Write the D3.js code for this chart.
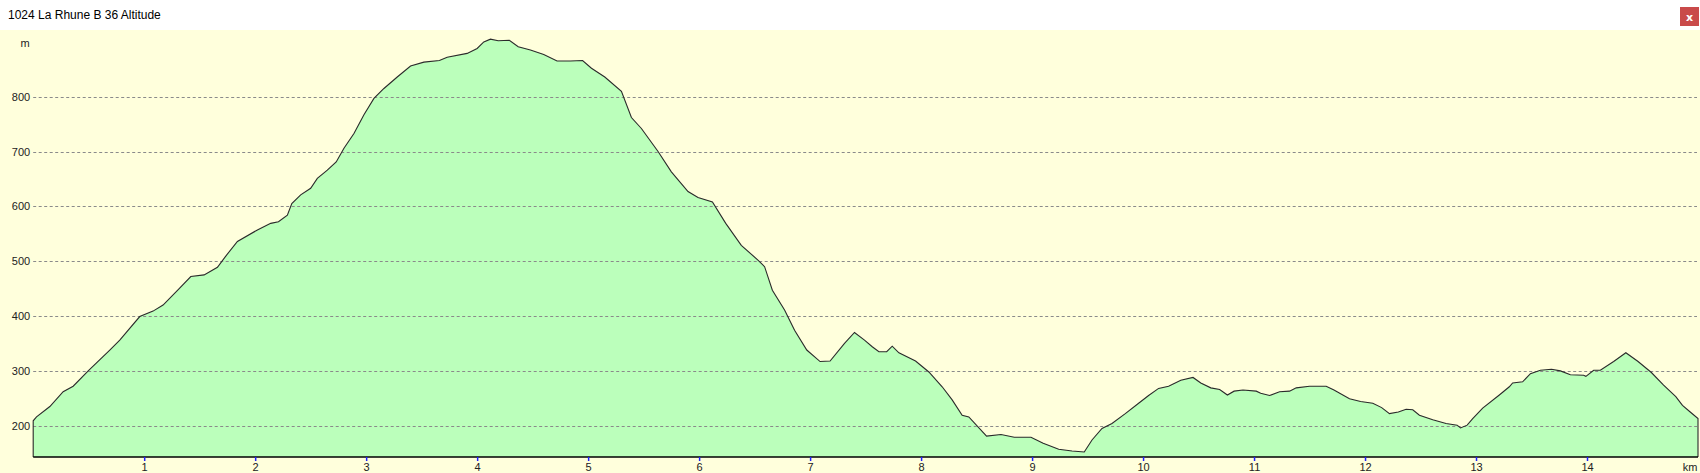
<!DOCTYPE html>
<html>
<head>
<meta charset="utf-8">
<script src="https://cdn.jsdelivr.net/npm/d3@7"></script>
<style>
  html, body { margin: 0; padding: 0; background: #ffffff; }
  svg { display: block; }
</style>
</head>
<body>
<svg id="chart" width="1700" height="473"></svg>
<script>
const title = "1024 La Rhune B 36 Altitude";
const yUnit = "m";
const xUnit = "km";
const yTicks = [200, 300, 400, 500, 600, 700, 800];
const xTicks = [1, 2, 3, 4, 5, 6, 7, 8, 9, 10, 11, 12, 13, 14];
const distanceKm = [
  0.00, 0.03, 0.15, 0.27, 0.36, 0.50, 0.69, 0.78, 0.96, 1.08, 1.17, 1.30, 1.42, 1.54, 1.66, 1.73, 1.84,
  2.02, 2.14, 2.21, 2.29, 2.33, 2.41, 2.50, 2.56, 2.65, 2.73, 2.80, 2.89, 2.98, 3.07, 3.16, 3.28, 3.40,
  3.52, 3.66, 3.73, 3.91, 4.00, 4.06, 4.12, 4.19, 4.29, 4.37, 4.48, 4.60, 4.72, 4.84, 4.95, 5.03, 5.15,
  5.30, 5.39, 5.48, 5.63, 5.75, 5.90, 5.99, 6.12, 6.24, 6.38, 6.53, 6.59, 6.66, 6.77, 6.86, 6.97, 7.09,
  7.18, 7.31, 7.40, 7.49, 7.56, 7.62, 7.69, 7.74, 7.80, 7.95, 8.07, 8.19, 8.28, 8.37, 8.43, 8.59, 8.72,
  8.84, 8.99, 9.10, 9.24, 9.36, 9.47, 9.54, 9.63, 9.72, 9.84, 9.96, 10.05, 10.14, 10.23, 10.34, 10.45,
  10.52, 10.61, 10.69, 10.76, 10.82, 10.90, 11.02, 11.06, 11.14, 11.23, 11.32, 11.38, 11.50, 11.65,
  11.72, 11.86, 11.96, 12.07, 12.15, 12.22, 12.30, 12.37, 12.43, 12.49, 12.61, 12.73, 12.83, 12.86,
  12.92, 12.97, 13.06, 13.21, 13.30, 13.33, 13.42, 13.49, 13.58, 13.68, 13.76, 13.85, 13.97, 13.99,
  14.06, 14.12, 14.24, 14.35, 14.46, 14.58, 14.69, 14.80, 14.86, 14.93, 15.00
];
const altitudeM = [
  209, 216, 235, 262, 272, 301, 338, 356, 399, 409, 420, 447, 472, 475, 489, 508, 536,
  557, 569, 572, 584, 605, 621, 633, 651, 666, 681, 706, 733, 767, 797, 815, 836, 856,
  863, 866, 872, 879, 888, 900, 905, 902, 903, 891, 885, 877, 865, 865, 866, 852, 836,
  810, 762, 742, 700, 663, 627, 616, 608, 569, 529, 502, 490, 447, 411, 374, 338, 317,
  318, 350, 370, 356, 344, 335, 335, 345, 333, 318, 298, 271, 247, 219, 216, 181, 184,
  179, 179, 168, 157, 154, 152, 174, 195, 204, 222, 241, 255, 268, 272, 283, 288,
  278, 269, 266, 256, 263, 265, 263, 259, 255, 262, 263, 269, 272, 272,
  265, 249, 244, 241, 233, 222, 225, 230, 229, 219, 211, 204, 201, 196,
  201, 213, 232, 256, 271, 278, 280, 295, 301, 303, 300, 293, 292, 290,
  301, 301, 317, 333, 317, 297, 274, 253, 237, 225, 213
];

const W = 1700, H = 473;
const headerH = 30;
const plotLeft = 33.2, plotRight = 1698, plotBottom = 457;
const svg = d3.select("#chart");

// header
svg.append("rect").attr("x", 0).attr("y", 0).attr("width", W).attr("height", headerH).attr("fill", "#ffffff");
svg.append("text").attr("x", 8).attr("y", 19)
  .attr("font-family", "'Liberation Sans', Arial, sans-serif").attr("font-size", 12)
  .attr("fill", "#000").text(title);
svg.append("rect").attr("x", 1680).attr("y", 7).attr("width", 19).attr("height", 19).attr("fill", "#c94a4a");
svg.append("text").attr("x", 1689.5).attr("y", 20.5).attr("text-anchor", "middle")
  .attr("font-family", "'DejaVu Sans', sans-serif").attr("font-size", 11).attr("font-weight", "bold")
  .attr("fill", "#ffffff").text("x");

// plot background
svg.append("rect").attr("x", 0).attr("y", headerH).attr("width", W).attr("height", H - headerH).attr("fill", "#ffffdc");

const x = d3.scaleLinear().domain([0, 15]).range([plotLeft, plotRight]);
const y = d3.scaleLinear().domain([200, 800]).range([425.7, 96.7]);

const pts = distanceKm.map((d, i) => [d, altitudeM[i]]);

const area = d3.area().x(d => x(d[0])).y0(plotBottom).y1(d => y(d[1]));
svg.append("path").datum(pts).attr("d", area).attr("fill", "#bbffbb").attr("stroke", "none");

// grid lines
const grid = svg.append("g");
yTicks.forEach(t => {
  grid.append("line").attr("x1", plotLeft).attr("x2", 1697).attr("y1", Math.round(y(t)) + 0.5).attr("y2", Math.round(y(t)) + 0.5)
    .attr("stroke", "#8a8a8a").attr("stroke-width", 1).attr("stroke-dasharray", "3,2.5");
});

// y labels
const yAxis = d3.axisLeft(y).tickValues(yTicks).tickSize(0).tickPadding(3);
const gy = svg.append("g").attr("transform", `translate(${plotLeft},0)`).call(yAxis);
gy.select(".domain").remove();
gy.selectAll("text").attr("font-family", "'Liberation Sans', Arial, sans-serif").attr("font-size", 11).attr("fill", "#222");

svg.append("text").attr("x", 25).attr("y", 47).attr("text-anchor", "middle")
  .attr("font-family", "'Liberation Sans', Arial, sans-serif").attr("font-size", 11).attr("fill", "#222").text(yUnit);

// profile outline
const line = d3.line().x(d => x(d[0])).y(d => y(d[1]));
const outline = [[0, null]].concat(pts).concat([[15, null]]);
svg.append("path")
  .attr("d", `M${x(0)},${plotBottom}L` + line(pts).slice(1) + `L${x(15)},${plotBottom}`)
  .attr("fill", "none").attr("stroke", "#2a2a2a").attr("stroke-width", 1.1);

// x axis
const xAxis = d3.axisBottom(x).tickValues(xTicks).tickSize(4).tickPadding(2).tickFormat(d3.format("d"));
const gx = svg.append("g").attr("transform", `translate(0,${plotBottom})`).call(xAxis);
gx.select(".domain").attr("stroke", "#000").attr("stroke-width", 1.5).attr("d", `M${plotLeft},0H${plotRight}`);
gx.selectAll(".tick line").attr("stroke", "#1f1fff").attr("stroke-width", 1.5);
gx.selectAll("text").attr("font-family", "'Liberation Sans', Arial, sans-serif").attr("font-size", 11).attr("fill", "#222");

svg.append("text").attr("x", 1690).attr("y", 471).attr("text-anchor", "middle")
  .attr("font-family", "'Liberation Sans', Arial, sans-serif").attr("font-size", 11).attr("fill", "#222").text(xUnit);
</script>
</body>
</html>
